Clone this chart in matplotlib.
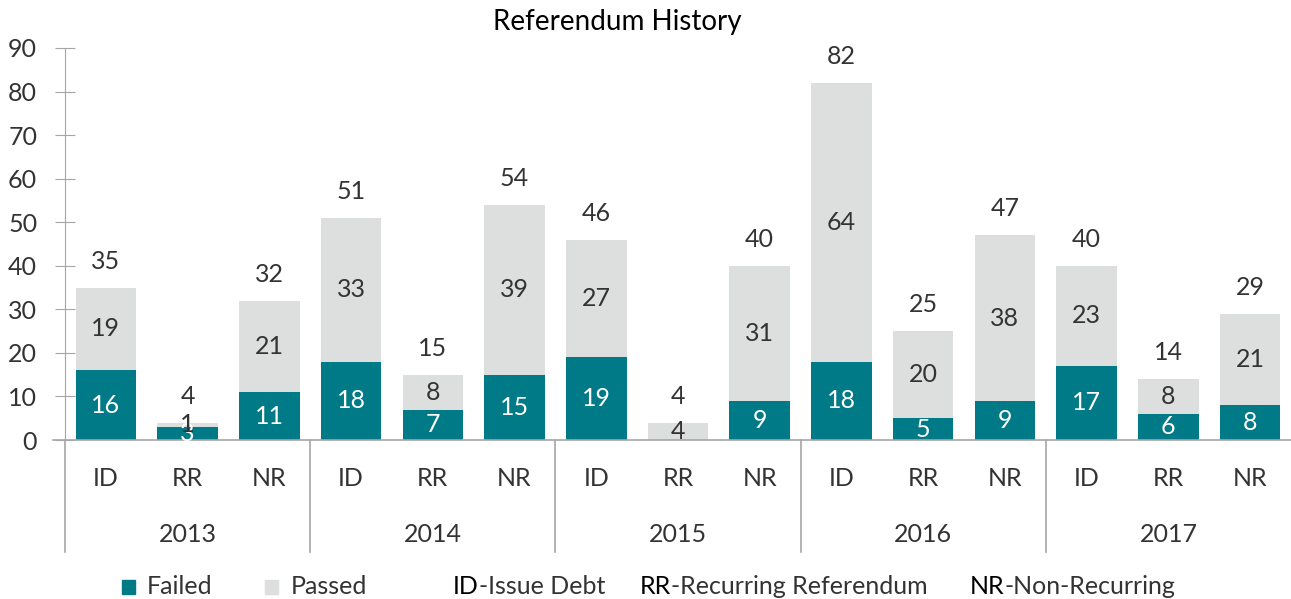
import matplotlib
matplotlib.use("Agg")
import matplotlib.pyplot as plt
from matplotlib.lines import Line2D
from matplotlib.patches import Rectangle

plt.rcParams['font.family'] = ['Lato', 'DejaVu Sans']

years = ["2013", "2014", "2015", "2016", "2017"]
types = ["ID", "RR", "NR"]
failed = [16, 3, 11, 18, 7, 15, 19, 0, 9, 18, 5, 9, 17, 6, 8]
passed = [19, 1, 21, 33, 8, 39, 27, 4, 31, 64, 20, 38, 23, 8, 21]

TEAL = "#007A87"
GRAY = "#DDDEDE"
AXC = "#A6A6A6"
TXT = "#333333"
FS = 18

W, H = 1291, 599
fig = plt.figure(figsize=(W / 100, H / 100), dpi=100)
ax = fig.add_axes([65 / W, 159 / H, (W - 65) / W, 392 / H])

n = len(failed)
x = list(range(n))
ax.bar(x, failed, width=0.74, color=TEAL)
ax.bar(x, passed, width=0.74, bottom=failed, color=GRAY)

for i in range(n):
    f, p = failed[i], passed[i]
    tot = f + p
    if f > 0:
        ax.text(i, f / 2, str(f), ha='center', va='center', color='white', fontsize=FS)
    if p > 0:
        ax.text(i, f + p / 2, str(p), ha='center', va='center', color=TXT, fontsize=FS)
    ax.annotate(str(tot), (i, tot), xytext=(0, 19), textcoords='offset points',
                ha='center', va='center', color=TXT, fontsize=FS)

ax.set_xlim(-0.5, n - 0.5)
ax.set_ylim(0, 90)
ax.set_yticks(range(0, 91, 10))
ax.tick_params(axis='y', direction='inout', length=14, color=AXC, labelsize=FS,
               labelcolor=TXT, pad=13)
ax.set_xticks([])
for s in ['top', 'right', 'bottom']:
    ax.spines[s].set_visible(False)
ax.spines['left'].set_color(AXC)
ax.spines['left'].set_bounds(0, 90)

# baseline
ax.add_line(Line2D([-12 / 1226, 1], [0, 0], transform=ax.transAxes, color=AXC,
                   lw=1.2, clip_on=False))

# category and year labels
for g, yr in enumerate(years):
    for j, t in enumerate(types):
        ax.text(g * 3 + j, -38 / 392 * 90, t, ha='center', va='center',
                color=TXT, fontsize=FS, clip_on=False)
    ax.text(g * 3 + 1, -95 / 392 * 90, yr, ha='center', va='center', color=TXT,
            fontsize=FS, clip_on=False)
    xs = g * 3 - 0.5
    ax.add_line(Line2D([xs, xs], [0, -112 / 392 * 90], color=AXC, lw=1.2, clip_on=False))

fig.text(617 / W, 1 - 22 / H, "Referendum History", ha='center', va='center',
         color='black', fontsize=20)

# legend
ly = 1 - 586 / H
fig.patches.append(Rectangle((122 / W, 1 - 594 / H), 13 / W, 14 / H, transform=fig.transFigure,
                             color=TEAL))
fig.text(147 / W, ly, "Failed", ha='left', va='center', color=TXT, fontsize=FS)
fig.patches.append(Rectangle((265 / W, 1 - 594 / H), 13 / W, 14 / H, transform=fig.transFigure,
                             color=GRAY))
fig.text(291 / W, ly, "Passed", ha='left', va='center', color=TXT, fontsize=FS)

def legend_item(xpx, abbr, rest):
    t = fig.text(xpx / W, ly, abbr, ha='left', va='center', color='black', fontsize=FS)
    fig.canvas.draw()
    bb = t.get_window_extent()
    fig.text(bb.x1 / W, ly, rest, ha='left', va='center', color=TXT, fontsize=FS)

legend_item(453, "ID", "-Issue Debt")
legend_item(640, "RR", "-Recurring Referendum")
legend_item(970, "NR", "-Non-Recurring")

fig.savefig("out.png", dpi=100)
